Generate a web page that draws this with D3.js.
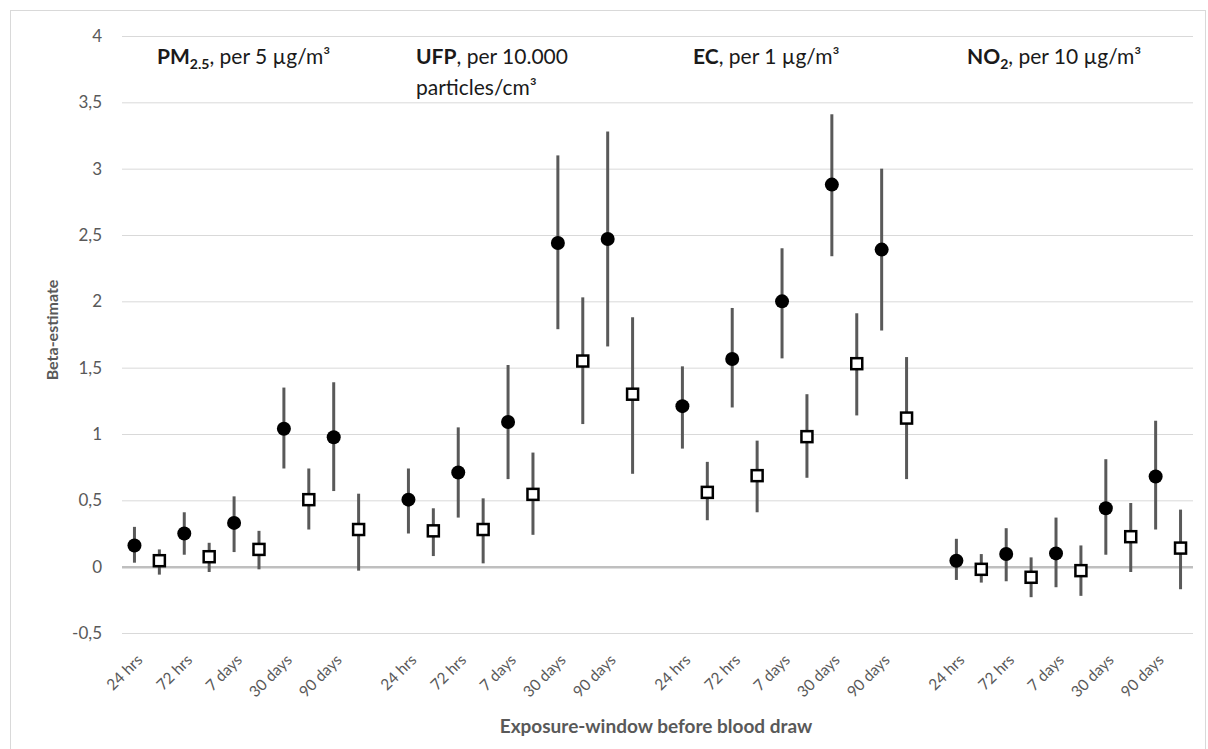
<!DOCTYPE html>
<html>
<head>
  <script src="https://d3js.org/d3.v7.min.js"></script>
  <style>
    body { margin: 0; background: #fff; font-family: Lato, 'Open Sans', sans-serif; }
    .grid line { stroke: #d9d9d9; stroke-width: 1px; }
    .tick text { fill: #595959; }
  </style>
</head>
<body>
  <div id="chart"></div>
  <script>
    // exposure windows and pollutant panels
    const windows = ["24 hrs", "72 hrs", "7 days", "30 days", "90 days"];
    const pollutants = ["PM2.5", "UFP", "EC", "NO2"];
    const yTicks = [-0.5, 0, 0.5, 1, 1.5, 2, 2.5, 3, 3.5, 4];

    // filled circles: estimate, lower and upper CI (PM2.5, UFP, EC, NO2 x 5 windows)
    const circleEst = [0.16, 0.25, 0.33, 1.04, 0.975,
                       0.505, 0.71, 1.09, 2.44, 2.47,
                       1.21, 1.565, 2.0, 2.88, 2.39,
                       0.045, 0.095, 0.10, 0.44, 0.68];
    const circleLo = [0.03, 0.09, 0.11, 0.74, 0.57,
                      0.25, 0.37, 0.66, 1.79, 1.66,
                      0.89, 1.20, 1.57, 2.34, 1.78,
                      -0.10, -0.11, -0.155, 0.09, 0.28];
    const circleHi = [0.30, 0.41, 0.53, 1.35, 1.39,
                      0.74, 1.05, 1.52, 3.10, 3.28,
                      1.51, 1.95, 2.40, 3.41, 3.00,
                      0.21, 0.29, 0.37, 0.81, 1.10];

    // open squares
    const squareEst = [0.045, 0.075, 0.13, 0.505, 0.28,
                       0.27, 0.28, 0.545, 1.55, 1.30,
                       0.56, 0.686, 0.98, 1.53, 1.12,
                       -0.02, -0.08, -0.03, 0.226, 0.14];
    const squareLo = [-0.06, -0.04, -0.02, 0.28, -0.03,
                      0.08, 0.025, 0.24, 1.075, 0.70,
                      0.35, 0.41, 0.67, 1.14, 0.66,
                      -0.12, -0.23, -0.22, -0.04, -0.17];
    const squareHi = [0.13, 0.18, 0.27, 0.74, 0.55,
                      0.44, 0.515, 0.86, 2.03, 1.88,
                      0.79, 0.95, 1.30, 1.91, 1.58,
                      0.095, 0.07, 0.16, 0.48, 0.43];

    const width = 1208, height = 749;
    const plot = { left: 122, right: 1193, top: 36, bottom: 633 };

    // one category slot per marker, with an empty slot between panels
    const slots = [];
    pollutants.forEach((p, pi) => {
      windows.forEach(w => {
        slots.push(p + "|" + w + "|c");
        slots.push(p + "|" + w + "|s");
      });
      if (pi < pollutants.length - 1) slots.push("gap" + pi);
    });

    const rows = [];
    pollutants.forEach((p, pi) => {
      windows.forEach((w, wi) => {
        const i = pi * windows.length + wi;
        rows.push({ slot: p + "|" + w + "|c", kind: "c", est: circleEst[i], lo: circleLo[i], hi: circleHi[i] });
        rows.push({ slot: p + "|" + w + "|s", kind: "s", est: squareEst[i], lo: squareLo[i], hi: squareHi[i] });
      });
    });

    const svg = d3.select("#chart").append("svg")
      .attr("width", width)
      .attr("height", height);

    svg.append("rect")
      .attr("x", 10.5).attr("y", 10.5)
      .attr("width", 1195).attr("height", 745)
      .attr("fill", "#fff")
      .attr("stroke", "#d9d9d9");

    const x = d3.scaleBand().domain(slots).range([plot.left, plot.right]).padding(0);
    const y = d3.scaleLinear().domain([-0.5, 4]).range([plot.bottom, plot.top]);

    const locale = d3.formatLocale({ decimal: ",", thousands: ".", grouping: [3], currency: ["", ""], minus: "-" });
    const fmt = locale.format("");

    // gridlines + y labels
    const yAxis = svg.append("g")
      .attr("class", "grid")
      .attr("transform", `translate(${plot.left},0)`)
      .call(d3.axisLeft(y).tickValues(yTicks).tickSize(-(plot.right - plot.left)).tickPadding(20).tickFormat(fmt));
    yAxis.select(".domain").remove();
    yAxis.selectAll(".tick text")
      .style("font-size", "17px")
      .style("font-family", "Lato, sans-serif");
    yAxis.selectAll(".tick line")
      .filter(d => d === 0)
      .style("stroke", "#bfbfbf")
      .style("stroke-width", "2.5px");

    // x labels, only under the circle slot of each window
    const xLabels = svg.append("g");
    pollutants.forEach(p => {
      windows.forEach(w => {
        const cx = x(p + "|" + w + "|c") + x.bandwidth() / 2;
        xLabels.append("text")
          .attr("transform", `translate(${cx + 9},661) rotate(-45)`)
          .attr("text-anchor", "end")
          .attr("fill", "#595959")
          .style("font-size", "15.5px")
          .text(w);
      });
    });

    // error bars
    svg.append("g").selectAll("line")
      .data(rows)
      .enter().append("line")
      .attr("x1", d => x(d.slot) + x.bandwidth() / 2)
      .attr("x2", d => x(d.slot) + x.bandwidth() / 2)
      .attr("y1", d => y(d.lo))
      .attr("y2", d => y(d.hi))
      .attr("stroke", "#595959")
      .attr("stroke-width", 3);

    svg.append("g").selectAll("circle")
      .data(rows.filter(d => d.kind === "c"))
      .enter().append("circle")
      .attr("cx", d => x(d.slot) + x.bandwidth() / 2)
      .attr("cy", d => y(d.est))
      .attr("r", 7)
      .attr("fill", "#000");

    const sq = 11;
    svg.append("g").selectAll("rect")
      .data(rows.filter(d => d.kind === "s"))
      .enter().append("rect")
      .attr("x", d => x(d.slot) + x.bandwidth() / 2 - sq / 2)
      .attr("y", d => y(d.est) - sq / 2)
      .attr("width", sq)
      .attr("height", sq)
      .attr("fill", "#fff")
      .attr("stroke", "#000")
      .attr("stroke-width", 2.5);

    // axis titles
    svg.append("text")
      .attr("transform", `translate(52,330) rotate(-90)`)
      .attr("text-anchor", "middle")
      .attr("dy", "0.35em")
      .attr("fill", "#595959")
      .style("font-size", "16px")
      .style("font-weight", "bold")
      .text("Beta-estimate");

    svg.append("text")
      .attr("x", 656)
      .attr("y", 733)
      .attr("text-anchor", "middle")
      .attr("fill", "#595959")
      .style("font-size", "19px")
      .style("font-weight", "bold")
      .text("Exposure-window before blood draw");

    // panel titles
    const titles = svg.append("g").attr("fill", "#1a1a1a").style("font-size", "21px");

    function panelTitle(tx, ty, bold, sub, rest) {
      const t = titles.append("text").attr("x", tx).attr("y", ty);
      t.append("tspan").style("font-weight", "bold").text(bold);
      if (sub) {
        t.append("tspan").style("font-weight", "bold").style("font-size", "14px").attr("dy", 5).text(sub);
        t.append("tspan").attr("dy", -5).text(rest);
      } else {
        t.append("tspan").text(rest);
      }
      return t;
    }

    panelTitle(157, 64, "PM", "2.5", ", per 5 µg/m³");
    panelTitle(416, 64, "UFP", null, ", per 10.000");
    titles.append("text").attr("x", 416).attr("y", 95).text("particles/cm³");
    panelTitle(693, 64, "EC", null, ", per 1 µg/m³");
    panelTitle(967, 64, "NO", "2", ", per 10 µg/m³");
  </script>
</body>
</html>
